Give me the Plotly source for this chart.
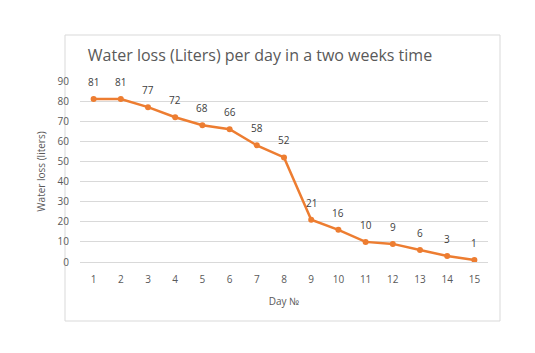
import plotly.graph_objects as go

days = list(range(1, 16))
loss = [81, 81, 77, 72, 68, 66, 58, 52, 21, 16, 10, 9, 6, 3, 1]
y_ticks = list(range(0, 100, 10))

W, H = 535, 353
L, R, T, B = 80, 47, 81, 91
pw, ph = W - L - R, H - T - B

def px_x(px):
    return (px - L) / pw

def px_y(py):
    return (H - B - py) / ph

fig = go.Figure()
fig.add_trace(go.Scatter(
    x=days, y=loss, mode="lines+markers",
    line=dict(color="#ED7D31", width=2.5),
    marker=dict(color="#ED7D31", size=6),
    cliponaxis=False, showlegend=False,
))

annotations = [dict(x=d, y=v, text=str(v), showarrow=False, yshift=17,
                    font=dict(size=10, color="#404040"))
               for d, v in zip(days, loss)]

fig.update_layout(
    width=W, height=H,
    margin=dict(l=L, r=R, t=T, b=B),
    paper_bgcolor="white", plot_bgcolor="white",
    font=dict(family="Open Sans, Liberation Sans, sans-serif", color="#595959"),
    title=dict(text="Water loss (Liters) per day in a two weeks time",
               x=px_x(260), xref="paper", xanchor="center",
               y=1 - 55 / H, yanchor="middle",
               font=dict(size=16, color="#595959")),
    xaxis=dict(range=[0.5, 15.5], tickmode="array", tickvals=days,
               ticktext=[str(d) for d in days], showgrid=False,
               showline=True, linecolor="#D9D9D9", zeroline=False,
               tickfont=dict(size=10, color="#595959"),
               title=dict(text="Day №", font=dict(size=10, color="#595959"), standoff=12),
               ticks="", ticklabelstandoff=8, fixedrange=True),
    yaxis=dict(range=[0, 90], tickmode="array", tickvals=y_ticks,
               showgrid=True, gridcolor="#D9D9D9", zeroline=False,
               tickfont=dict(size=10, color="#595959"),
               title=dict(text="Water loss (liters)", font=dict(size=10, color="#595959"), standoff=10),
               ticks="", ticklabelstandoff=10),
    annotations=annotations,
    shapes=[dict(type="rect", xref="paper", yref="paper",
                 x0=px_x(65), x1=px_x(500), y0=px_y(321), y1=px_y(35),
                 line=dict(color="#D9D9D9", width=1), fillcolor="rgba(0,0,0,0)",
                 layer="below")],
)

fig.write_html("out.html")
